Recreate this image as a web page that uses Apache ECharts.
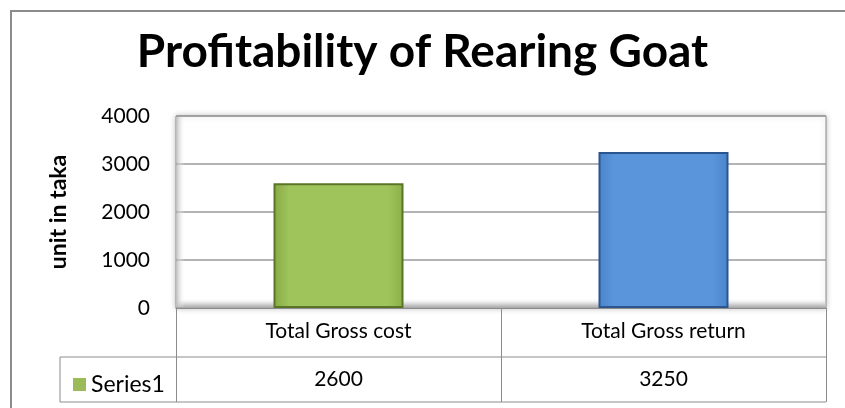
<!DOCTYPE html>
<html><head><meta charset="utf-8">
<script src="https://cdn.jsdelivr.net/npm/echarts@6/dist/echarts.min.js"></script>
<style>html,body{margin:0;padding:0;background:#fff}#c{width:845px;height:408px}</style>
</head><body><div id="c"></div>
<script>
const titleText = 'Profitability of Rearing Goat';
const categories = ['Total Gross cost', 'Total Gross return'];
const seriesName = 'Series1';
const values = [2600, 3250];
const yTicks = [0, 1000, 2000, 3000, 4000];
const yName = 'unit in taka';

const F = 'Lato, "Open Sans", sans-serif';
const G = {left: 176, top: 116, right: 845 - 826, bottom: 408 - 308};
const barColors = [
  {fill: ['#86a945', '#a0c45c', '#8cae4a'], border: '#5a7526'},
  {fill: ['#4a83c9', '#5a95dc', '#4a83c9'], border: '#2a5590'}
];

const chart = echarts.init(document.getElementById('c'), null, {renderer: 'canvas'});
const gridLine = {type: 'line', silent: true, style: {stroke: '#8c8c8c', lineWidth: 1}};
const plotW = 845 - G.left - G.right, plotB = 408 - G.bottom;
chart.setOption({
  animation: false,
  title: {text: titleText, left: 'center', top: 24,
    textStyle: {fontFamily: F, fontWeight: 'bold', fontSize: 46, color: '#000'}},
  grid: {left: G.left, top: G.top, right: G.right, bottom: G.bottom, show: true,
    borderColor: '#8c8c8c', borderWidth: 1, backgroundColor: '#fff',
    shadowColor: 'rgba(0,0,0,0.25)', shadowBlur: 6, shadowOffsetX: 0, shadowOffsetY: 0},
  legend: {show: true, data: [seriesName], left: 68, top: 368, itemWidth: 13, itemHeight: 13,
    icon: 'rect', itemGap: 4, textStyle: {fontFamily: F, fontSize: 23, color: '#000'}},
  xAxis: [{
    type: 'category', data: categories, position: 'bottom',
    axisLine: {show: true, lineStyle: {color: '#8c8c8c'}},
    axisTick: {show: true, length: 94, lineStyle: {color: '#8c8c8c'}},
    axisLabel: {fontFamily: F, fontSize: 21, color: '#000', margin: 13}
  }, {
    type: 'category', data: values.map(String), position: 'bottom', offset: 49,
    axisLine: {show: false}, axisTick: {show: false},
    axisLabel: {fontFamily: F, fontSize: 21, color: '#000', margin: 12}
  }],
  yAxis: {
    type: 'value', min: yTicks[0], max: yTicks[yTicks.length - 1], interval: 1000,
    name: yName, nameLocation: 'middle', nameGap: 106, nameRotate: 90,
    nameTextStyle: {fontFamily: F, fontWeight: 'bold', fontSize: 23, color: '#000'},
    axisLine: {show: false}, axisTick: {show: false},
    axisLabel: {fontFamily: F, fontSize: 21, color: '#000', margin: 26,
      formatter: v => String(v)},
    splitLine: {lineStyle: {color: '#9a9a9a', width: 1.5}}
  },
  series: [{
    name: seriesName, type: 'bar', z: 3, data: values.map((v, i) => ({
      value: v,
      itemStyle: {
        color: {type: 'linear', x: 0, y: 0, x2: 1, y2: 0, colorStops: [
          {offset: 0, color: barColors[i].fill[0]}, {offset: 0.12, color: barColors[i].fill[1]},
          {offset: 0.88, color: barColors[i].fill[1]}, {offset: 1, color: barColors[i].fill[2]}]},
        borderColor: barColors[i].border, borderWidth: 2
      }
    })),
    barWidth: '40%', xAxisIndex: 0,
    itemStyle: {color: '#9bbb59'}
  }],
  graphic: [
    {type: 'rect', silent: true, shape: {x: 11, y: 11, width: 900, height: 500},
      style: {fill: 'none', stroke: '#8c8c8c', lineWidth: 2}, z: -10},
    {type: 'rect', silent: true, z: 1, shape: {x: G.left + 1, y: plotB - 10, width: plotW - 2, height: 10},
      style: {fill: {type: 'linear', x: 0, y: 0, x2: 0, y2: 1, colorStops: [
        {offset: 0, color: 'rgba(255,255,255,0)'}, {offset: 0.5, color: 'rgba(225,225,225,1)'},
        {offset: 1, color: 'rgba(165,165,165,1)'}]}}},
    {type: 'rect', silent: true, z: 1, shape: {x: G.left + 1, y: G.top + 1, width: 8, height: plotB - G.top - 2},
      style: {fill: {type: 'linear', x: 0, y: 0, x2: 1, y2: 0, colorStops: [
        {offset: 0, color: 'rgba(190,190,190,0.8)'}, {offset: 1, color: 'rgba(255,255,255,0)'}]}}},
    Object.assign({shape: {x1: 60, y1: 357, x2: 826, y2: 357}}, gridLine),
    Object.assign({shape: {x1: 60, y1: 402, x2: 826, y2: 402}}, gridLine),
    Object.assign({shape: {x1: 60, y1: 357, x2: 60, y2: 402}}, gridLine)
  ]
});
</script></body></html>
